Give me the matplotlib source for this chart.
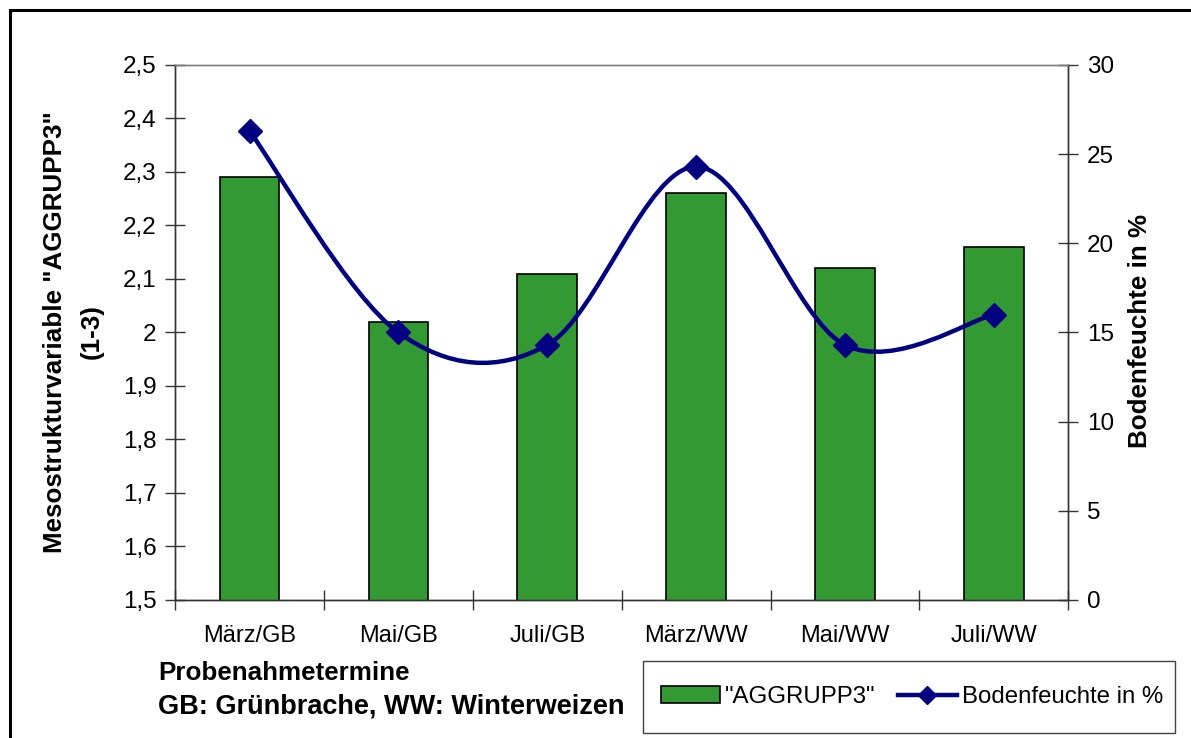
import matplotlib
matplotlib.use('Agg')
import matplotlib.pyplot as plt
from matplotlib.path import Path
from matplotlib.patches import PathPatch, Rectangle
from matplotlib.lines import Line2D
from matplotlib.ticker import FixedLocator, FuncFormatter

plt.rcParams['font.family'] = ['Liberation Sans', 'DejaVu Sans']

# data
termine = ['März/GB', 'Mai/GB', 'Juli/GB', 'März/WW', 'Mai/WW', 'Juli/WW']
aggrupp3 = [2.29, 2.02, 2.11, 2.26, 2.12, 2.16]
bodenfeuchte = [26.3, 15.0, 14.3, 24.3, 14.3, 16.0]

bar_color = '#339933'
line_color = '#000080'


def smooth_path(xs, ys):
    """Excel-style smoothed line: Catmull-Rom segments as cubic Beziers."""
    pts = list(zip(xs, ys))
    n = len(pts)
    verts = [pts[0]]
    codes = [Path.MOVETO]
    for i in range(n - 1):
        p0 = pts[max(i - 1, 0)]
        p1 = pts[i]
        p2 = pts[i + 1]
        p3 = pts[min(i + 2, n - 1)]
        c1 = (p1[0] + (p2[0] - p0[0]) / 6, p1[1] + (p2[1] - p0[1]) / 6)
        c2 = (p2[0] - (p3[0] - p1[0]) / 6, p2[1] - (p3[1] - p1[1]) / 6)
        verts += [c1, c2, p2]
        codes += [Path.CURVE4] * 3
    return Path(verts, codes)


def komma(v, pos):
    s = f'{v:.1f}'.rstrip('0').rstrip('.')
    return s.replace('.', ',')


W, H = 1191, 738
fig = plt.figure(figsize=(W / 100, H / 100), dpi=100)
ax = fig.add_axes([0.147, 0.187, 0.750, 0.725])
ax2 = ax.twinx()

x = list(range(len(termine)))
ax.bar(x, aggrupp3, width=0.40, color=bar_color, edgecolor='black',
       linewidth=1.2, zorder=2)
ax.set_xlim(-0.5, len(termine) - 0.5)
ax.set_ylim(1.5, 2.5)
ax.set_yticks([1.5 + 0.1 * i for i in range(11)])
ax.yaxis.set_major_formatter(FuncFormatter(komma))

ax.set_xticks(x)
ax.set_xticklabels(termine)
ax.xaxis.set_minor_locator(FixedLocator([i + 0.5 for i in range(-1, len(termine))]))
ax.tick_params(axis='x', which='major', length=0, pad=18, labelsize=17)
ax.tick_params(axis='x', which='minor', direction='inout', length=15, width=1.0, color='#333333')
ax.tick_params(axis='y', direction='inout', length=15, width=1.0, color='#333333',
               pad=6, labelsize=17.5)

ax2.set_ylim(0, 30)
ax2.set_yticks(range(0, 31, 5))
ax2.tick_params(axis='y', direction='inout', length=15, width=1.0, color='#333333',
                pad=6, labelsize=17.5)

path = smooth_path(x, bodenfeuchte)
ax2.add_patch(PathPatch(path, facecolor='none', edgecolor=line_color, linewidth=3.2,
                        capstyle='round', joinstyle='round', zorder=3))
ax2.plot(x, bodenfeuchte, linestyle='none', marker='D', markersize=12.5,
         color=line_color, zorder=4)

for a in (ax, ax2):
    for name, sp in a.spines.items():
        sp.set_linewidth(1.0)
        sp.set_color('#333333')
    a.spines['top'].set_color('#808080')

# axis titles
fig.text(55 / W, 1 - 332 / H, 'Mesostrukturvariable "AGGRUPP3"', rotation=90,
         ha='center', va='center', fontsize=18.7, fontweight='bold')
fig.text(92 / W, 1 - 332 / H, '(1-3)', rotation=90,
         ha='center', va='center', fontsize=18.7, fontweight='bold')
fig.text(1140 / W, 1 - 331 / H, 'Bodenfeuchte in %', rotation=90,
         ha='center', va='center', fontsize=18.7, fontweight='bold')
fig.text(158 / W, 1 - 673 / H, 'Probenahmetermine',
         ha='left', va='center', fontsize=18.7, fontweight='bold')
fig.text(158 / W, 1 - 707 / H, 'GB: Grünbrache, WW: Winterweizen',
         ha='left', va='center', fontsize=19.5, fontweight='bold')

# legend: frame drawn separately so its box matches the reference
fig.patches.append(Rectangle((643 / W, 1 - 733 / H), 532 / W, 72 / H,
                             transform=fig.transFigure, facecolor='white',
                             edgecolor='#404040', linewidth=1.0))
handles = [Rectangle((0, 0), 1, 1, facecolor=bar_color, edgecolor='black', linewidth=1.2),
           Line2D([0], [0], color=line_color, linewidth=3.2, marker='D', markersize=9.5)]
leg = fig.legend(handles, ['"AGGRUPP3"', 'Bodenfeuchte in %'], ncol=2,
                 loc='center left', bbox_to_anchor=(661 / W, 1 - 697 / H),
                 fontsize=17.3, frameon=False,
                 handlelength=2.45, handletextpad=0.2, columnspacing=0.95,
                 borderpad=0, borderaxespad=0)

# outer chart frame
fig.patches.append(Rectangle((10 / W, -0.1), 1.2, 1.1 - 10 / H,
                             transform=fig.transFigure, fill=False,
                             edgecolor='black', linewidth=2.2, clip_on=False))

fig.savefig('out.png', dpi=100)
